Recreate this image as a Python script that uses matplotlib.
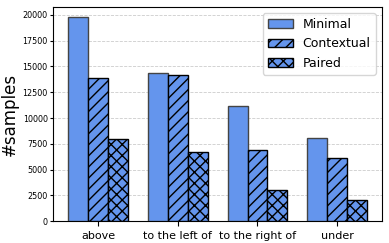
import numpy as np
import matplotlib.pyplot as plt

categories = ["above", "to the left of", "to the right of", "under"]
minimal = [19800, 14350, 11150, 8040]
contextual = [13900, 14150, 6930, 6160]
paired = [7950, 6680, 3050, 2070]

color = "#6495ED"
x = np.arange(len(categories))
w = 0.25

fig, ax = plt.subplots(figsize=(3.89, 2.43), dpi=100)
ax.bar(x - w, minimal, w, color=color, edgecolor="#444444", linewidth=1, label="Minimal", zorder=3)
ax.bar(x, contextual, w, color=color, edgecolor="black", linewidth=1, hatch="///", label="Contextual", zorder=3)
ax.bar(x + w, paired, w, color=color, edgecolor="black", linewidth=1, hatch="xxx", label="Paired", zorder=3)

ax.set_xticks(x)
ax.set_xticklabels(categories, fontsize=8)
ax.tick_params(axis="y", labelsize=5.8, length=2.5, pad=1.5)
ax.set_ylabel("#samples", fontsize=12)
ax.yaxis.set_label_coords(-0.106, 0.5)
ax.yaxis.grid(True, linestyle="--", color="#cccccc", linewidth=0.6, zorder=0)
ax.legend(loc="upper right", fontsize=9)

fig.subplots_adjust(left=0.137, right=0.982, top=0.972, bottom=0.09)
fig.savefig("out.png", dpi=100)
